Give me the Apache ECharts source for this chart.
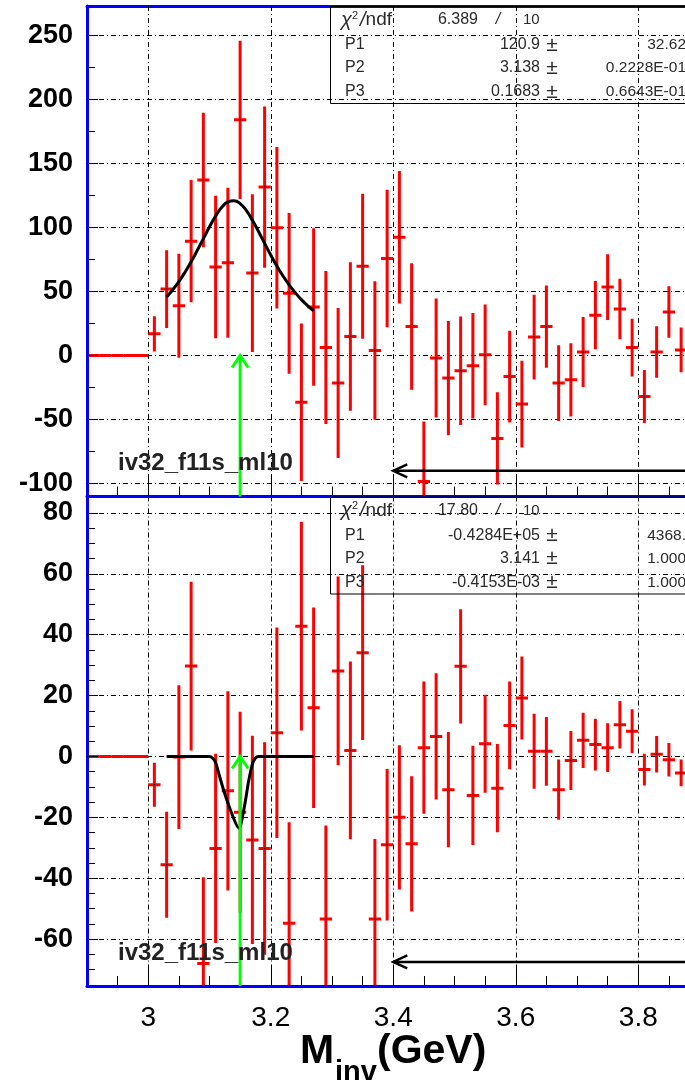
<!DOCTYPE html>
<html>
<head>
<meta charset="utf-8">
<script src="https://cdn.jsdelivr.net/npm/echarts@6/dist/echarts.min.js"></script>
<style>
html,body{margin:0;padding:0;background:#ffffff;}
#chart{width:685px;height:1080px;}
</style>
</head>
<body>
<div id="chart"></div>
<script>
// ---------------- data ----------------
const binWidth = 0.02;
const binCenters = [2.91,2.93,2.95,2.97,2.99,3.01,3.03,3.05,3.07,3.09,3.11,3.13,3.15,3.17,3.19,3.21,3.23,3.25,3.27,3.29,3.31,3.33,3.35,3.37,3.39,3.41,3.43,3.45,3.47,3.49,3.51,3.53,3.55,3.57,3.59,3.61,3.63,3.65,3.67,3.69,3.71,3.73,3.75,3.77,3.79,3.81,3.83,3.85,3.87];

const topValues = [0,0,0,0,0,16.9,51.8,38.8,89.2,137,69,72.3,183.9,64.3,131.4,99.6,48.5,-36.5,37.8,6.2,-21.5,14.8,69.7,3.9,75.7,92.2,22.6,-98.3,-2,-17.6,-11.9,-8,0.5,-64.7,-16.4,-37.9,14.4,22.6,-21.5,-19,2.7,31.5,53.4,36.2,6.2,-32,2.7,33.9,4.4];
const topErrors = [0,0,0,0,0,13.7,30.3,40.6,47.7,52.5,55.6,58.5,61.7,61.6,62.9,63,62.7,61.4,61.4,59.7,58.5,57.9,56.6,54,53.7,51.7,49.4,46.8,46.4,44.6,42.3,41.2,39.3,36,35.8,33.8,33.1,32.1,29.6,28.5,27.3,26.6,25.6,23.6,22.5,20.7,20.1,20.1,17.4];

const botValues = [0,0,0,0,0,-9.3,-35.6,-0.2,29.7,-68,-30.2,-11.3,-18.3,-27.4,-30.2,7.8,-54.8,42.8,16,-53.4,28.1,2,34.1,-53.4,-29,-20,-28.7,2.9,6.6,-10.9,29.6,-12.8,4.2,-10.4,10.2,19.2,1.7,1.7,-10.9,-1.3,5.3,3.9,2.9,10.4,8.3,-4.3,0.7,-1.1,-5.4];
const botErrors = [0,0,0,0,0,7.2,17.4,23.6,27.7,28.3,31.1,32.7,33,34.2,34.9,34.6,33.2,34.3,32.9,30.7,31,29.2,28.7,26.3,24.9,23.7,22.2,21.7,20.7,18.9,18.8,16.3,16.1,14.5,14.4,13.6,12.3,11.3,9.9,9.7,9.1,8.5,8,7.8,7.2,5.2,6,5.5,4.4];

// fit curves
const fitTopX = [3.03,3.04,3.05,3.06,3.07,3.08,3.09,3.10,3.11,3.12,3.13,3.14,3.15,3.16,3.17,3.18,3.19,3.20,3.21,3.22,3.23,3.24,3.25,3.26,3.27];
const fitTopY = [45.7,51.3,57.7,65.0,73.1,82.0,91.2,100.4,108.8,115.6,119.8,120.8,118.5,113.2,105.6,96.8,87.5,78.4,69.8,62.0,55.1,49.0,43.6,39.0,34.9];
const fitBotX = [3.03,3.09,3.10,3.105,3.11,3.115,3.123,3.134,3.148,3.156,3.164,3.17,3.175,3.18,3.27];
const fitBotY = [0,0,0,-0.5,-2,-5.5,-11,-17.5,-23.5,-17.5,-8,-2.5,-0.5,0,0];

// arrows: green (x, from, to), black (xStart, y)
const greenArrowX = 3.15;
const blackArrowTop = [3.4, -90];
const blackArrowBot = [3.4, -67.5];

// axes
const xMin = 2.9, xMax = 3.8763;
const yTopMin = -110, yTopMax = 272.7;
const yBotMin = -75.4, yBotMax = 85.4;
const xMajorTicks = [3.0,3.2,3.4,3.6,3.8];
const xMinorTicks = [2.95,3.05,3.1,3.15,3.25,3.3,3.35,3.45,3.5,3.55,3.65,3.7,3.75,3.85];
const yTopMajorTicks = [-100,-50,0,50,100,150,200,250];
const yTopMinorTicks = [-75,-25,25,75,125,175,225];
const yBotMajorTicks = [-60,-40,-20,0,20,40,60,80];
const yBotMinorTicks = [-75,-70,-65,-55,-50,-45,-35,-30,-25,-15,-10,-5,5,10,15,25,30,35,45,50,55,65,70,75,85];

// stats boxes and labels
const histName = 'iv32_f11s_ml10';
const statsTop = {chi2: '6.389', ndf: '10', rows: [['P1','120.9','32.62'],['P2','3.138','0.2228E-01'],['P3','0.1683','0.6643E-01']]};
const statsBot = {chi2: '17.80', ndf: '10', rows: [['P1','-0.4284E+05','4368.'],['P2','3.141','1.000'],['P3','-0.4153E-03','1.000']]};
const xTitle = ['M', 'inv', '(GeV)'];

// ---------------- chart ----------------
const FONT = "'Liberation Sans', Arial, Helvetica, sans-serif";
const chart = echarts.init(document.getElementById('chart'), null, {renderer: 'canvas'});

const gridStyle = {color: '#000', width: 1, type: [5, 3, 1, 3]};

function yMajor(g, min, max, ticks) {
  return {
    type: 'value', gridIndex: g, min: min, max: max, position: 'left',
    axisLine: {show: true, onZero: false, lineStyle: {color: '#0000ff', width: 3}},
    axisTick: {show: true, inside: true, length: 11, customValues: ticks, lineStyle: {color: '#000', width: 1}},
    axisLabel: {show: true, customValues: ticks, margin: 14, color: '#000', fontSize: 27, fontWeight: 'bold', fontFamily: FONT},
    splitLine: {show: true, lineStyle: gridStyle},
    z: 3
  };
}
function yMinor(g, min, max, ticks) {
  return {
    type: 'value', gridIndex: g, min: min, max: max, position: 'left',
    axisLine: {show: false, onZero: false},
    axisTick: {show: true, inside: true, length: 8, customValues: ticks, lineStyle: {color: '#000', width: 1}},
    axisLabel: {show: false},
    splitLine: {show: false}
  };
}
function xMajor(g, showLabels) {
  return {
    type: 'value', gridIndex: g, min: xMin, max: xMax, position: 'bottom',
    axisLine: {show: true, onZero: false, lineStyle: {color: '#0000ff', width: 3}},
    axisTick: {show: true, inside: true, length: 20, customValues: xMajorTicks, lineStyle: {color: '#000', width: 1}},
    axisLabel: {show: showLabels, customValues: xMajorTicks, margin: 18, color: '#000', fontSize: 28, fontFamily: FONT},
    splitLine: {show: true, lineStyle: gridStyle},
    z: 3
  };
}
function xMinor(g) {
  return {
    type: 'value', gridIndex: g, min: xMin, max: xMax, position: 'bottom',
    axisLine: {show: false, onZero: false},
    axisTick: {show: true, inside: true, length: 10, customValues: xMinorTicks, lineStyle: {color: '#000', width: 1}},
    axisLabel: {show: false},
    splitLine: {show: false}
  };
}

function errBars(params, api) {
  const x = api.value(0), y = api.value(1), e = api.value(2);
  const cs = params.coordSys;
  const style = {stroke: '#ff0000', lineWidth: 3, lineCap: 'butt'};
  const pL = api.coord([x - binWidth / 2, y]);
  const pR = api.coord([x + binWidth / 2, y]);
  const children = [{type: 'line', shape: {x1: pL[0], y1: pL[1], x2: pR[0], y2: pR[1]}, style: style}];
  if (e > 0) {
    const pT = api.coord([x, y + e]);
    const pB = api.coord([x, y - e]);
    children.push({type: 'line', shape: {x1: pT[0], y1: pT[1], x2: pB[0], y2: pB[1]}, style: style});
    const c = api.coord([x, y]);
    children.push({type: 'rect', shape: {x: c[0] - 0.75, y: c[1] - 0.75, width: 1.5, height: 1.5}, style: {fill: '#222'}});
  }
  return {type: 'group', children: children,
    clipPath: {type: 'rect', shape: {x: cs.x, y: cs.y, width: cs.width, height: cs.height}}};
}

function greenArrow(params, api) {
  const x = api.value(0), yFrom = api.value(1), yTo = api.value(2);
  const b = api.coord([x, yFrom]);
  const t = api.coord([x, yTo]);
  const st = {stroke: '#00ff00', lineWidth: 3, fill: null};
  return {type: 'group', children: [
    {type: 'line', shape: {x1: b[0], y1: b[1], x2: t[0], y2: t[1]}, style: st},
    {type: 'polyline', shape: {points: [[t[0] - 8, t[1] + 12], [t[0], t[1]], [t[0] + 8, t[1] + 12]]}, style: st}
  ]};
}

function blackArrow(params, api) {
  const x1 = api.value(0), y = api.value(1), x2 = api.value(2);
  const a = api.coord([x1, y]);
  const b = api.coord([x2, y]);
  const st = {stroke: '#000000', lineWidth: 2.5, fill: null};
  return {type: 'group', children: [
    {type: 'line', shape: {x1: a[0], y1: a[1], x2: b[0], y2: b[1]}, style: st},
    {type: 'polyline', shape: {points: [[a[0] + 14, a[1] - 6.5], [a[0], a[1]], [a[0] + 14, a[1] + 6.5]]}, style: st}
  ]};
}

function pts(xs, ys) { return xs.map((x, i) => [x, ys[i]]); }
function bars(vals, errs) { return binCenters.map((x, i) => [x, vals[i], errs[i]]); }

function statsGraphics(s, top) {
  const els = [];
  const txt = '#2a2a2a';
  els.push({type: 'rect', z: 100, shape: {x: 330.5, y: top + 0.5, width: 400, height: 97}, style: {fill: null, stroke: '#000', lineWidth: 1}});
  const rowY = [top + 14, top + 39, top + 62, top + 86];
  els.push({type: 'text', z: 101, x: 341, y: rowY[0], style: {
    text: '{c|χ}{s|2}{c|/}{n|ndf}', verticalAlign: 'middle', align: 'left', fill: txt,
    rich: {c: {fontSize: 20, fontFamily: FONT, fill: txt, fontStyle: 'italic'}, s: {fontSize: 11, fontFamily: FONT, fill: txt, verticalAlign: 'top', padding: [0, 2, 8, 0]}, n: {fontSize: 19, fontFamily: FONT, fill: txt}}
  }});
  els.push({type: 'text', z: 101, x: 478, y: rowY[0], style: {text: s.chi2, font: '16px ' + FONT, fill: txt, align: 'right', verticalAlign: 'middle'}});
  els.push({type: 'text', z: 101, x: 498, y: rowY[0], style: {text: '/', font: 'italic 16px ' + FONT, fill: txt, align: 'center', verticalAlign: 'middle'}});
  els.push({type: 'text', z: 101, x: 523, y: rowY[0], style: {text: s.ndf, font: '15px ' + FONT, fill: txt, align: 'left', verticalAlign: 'middle'}});
  s.rows.forEach((r, i) => {
    const y = rowY[i + 1];
    els.push({type: 'text', z: 101, x: 345, y: y, style: {text: r[0], font: '16px ' + FONT, fill: txt, align: 'left', verticalAlign: 'middle'}});
    els.push({type: 'text', z: 101, x: 540, y: y, style: {text: r[1], font: '16px ' + FONT, fill: txt, align: 'right', verticalAlign: 'middle'}});
    els.push({type: 'text', z: 101, x: 552, y: y, style: {text: '±', font: '21px ' + FONT, fill: txt, align: 'center', verticalAlign: 'middle'}});
    els.push({type: 'text', z: 101, x: 686, y: y, style: {text: r[2], font: '15.5px ' + FONT, fill: txt, align: 'right', verticalAlign: 'middle'}});
  });
  return els;
}

const graphics = [].concat(
  statsGraphics(statsTop, 6),
  statsGraphics(statsBot, 496.5),
  [
    {type: 'text', z: 102, x: 118, y: 463, style: {text: histName, font: 'bold 24px ' + FONT, fill: '#222', align: 'left', verticalAlign: 'middle'}},
    {type: 'text', z: 102, x: 118, y: 953, style: {text: histName, font: 'bold 24px ' + FONT, fill: '#222', align: 'left', verticalAlign: 'middle'}},
    {type: 'text', z: 102, x: 300, y: 1052, style: {text: xTitle[0], font: 'bold 41px ' + FONT, fill: '#000', align: 'left', verticalAlign: 'middle'}},
    {type: 'text', z: 102, x: 335, y: 1073, style: {text: xTitle[1], font: 'bold 29px ' + FONT, fill: '#000', align: 'left', verticalAlign: 'middle'}},
    {type: 'text', z: 102, x: 377, y: 1052, style: {text: xTitle[2], font: 'bold 41px ' + FONT, fill: '#000', align: 'left', verticalAlign: 'middle'}}
  ]
);

const option = {
  backgroundColor: '#ffffff',
  animation: false,
  grid: [
    {left: 87, top: 6, width: 598, height: 490.5, containLabel: false},
    {left: 87, top: 496.5, width: 598, height: 489.5, containLabel: false}
  ],
  xAxis: [
    xMajor(0, false),
    xMinor(0),
    {type: 'value', gridIndex: 0, min: xMin, max: xMax, position: 'top',
      axisLine: {show: true, onZero: false, lineStyle: {color: '#0000ff', width: 3}},
      axisTick: {show: false}, axisLabel: {show: false}, splitLine: {show: false}},
    xMajor(1, true),
    xMinor(1)
  ],
  yAxis: [
    yMajor(0, yTopMin, yTopMax, yTopMajorTicks),
    yMinor(0, yTopMin, yTopMax, yTopMinorTicks),
    yMajor(1, yBotMin, yBotMax, yBotMajorTicks),
    yMinor(1, yBotMin, yBotMax, yBotMinorTicks)
  ],
  series: [
    {type: 'custom', xAxisIndex: 0, yAxisIndex: 0, renderItem: errBars, data: bars(topValues, topErrors), z: 3},
    {type: 'line', xAxisIndex: 0, yAxisIndex: 0, data: pts(fitTopX, fitTopY), smooth: true, showSymbol: false,
      lineStyle: {color: '#000', width: 3}, z: 4},
    {type: 'custom', xAxisIndex: 0, yAxisIndex: 0, renderItem: greenArrow, data: [[greenArrowX, yTopMin, 0]], z: 5},
    {type: 'custom', xAxisIndex: 0, yAxisIndex: 0, renderItem: blackArrow, data: [[blackArrowTop[0], blackArrowTop[1], xMax]], z: 5},

    {type: 'custom', xAxisIndex: 3, yAxisIndex: 2, renderItem: errBars, data: bars(botValues, botErrors), z: 3},
    {type: 'line', xAxisIndex: 3, yAxisIndex: 2, data: pts(fitBotX, fitBotY), smooth: 0.3, showSymbol: false,
      lineStyle: {color: '#000', width: 3}, z: 4},
    {type: 'custom', xAxisIndex: 3, yAxisIndex: 2, renderItem: greenArrow, data: [[greenArrowX, yBotMin, 0]], z: 5},
    {type: 'custom', xAxisIndex: 3, yAxisIndex: 2, renderItem: blackArrow, data: [[blackArrowBot[0], blackArrowBot[1], xMax]], z: 5}
  ],
  graphic: graphics
};
chart.setOption(option);
</script>
</body>
</html>
